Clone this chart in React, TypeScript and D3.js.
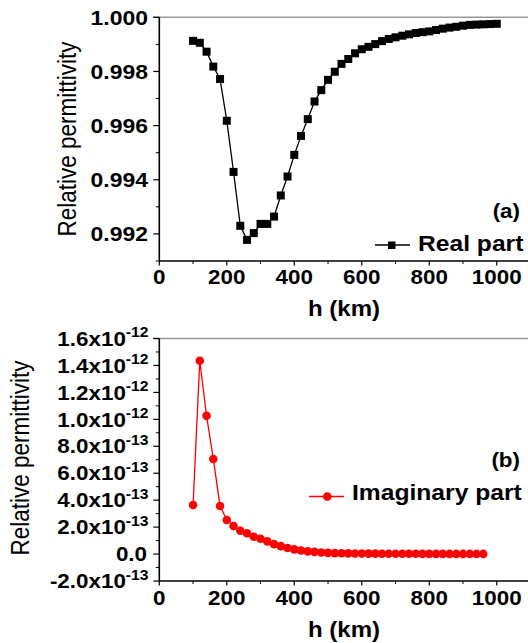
import React from 'react';
import * as d3 from 'd3';

// ---------- data ----------
const hReal = [100, 120, 140, 160, 180, 200, 220, 240, 260, 280, 300, 320, 340, 360, 380, 400, 420, 440, 460, 480, 500, 520, 540, 560, 580, 600, 620, 640, 660, 680, 700, 720, 740, 760, 780, 800, 820, 840, 860, 880, 900, 920, 940, 960, 980, 1000];
const realPart = [0.99913, 0.99906, 0.99873, 0.99818, 0.99772, 0.99618, 0.99429, 0.9923, 0.99178, 0.99203, 0.99237, 0.99237, 0.99264, 0.99342, 0.99412, 0.99492, 0.99562, 0.99624, 0.99689, 0.99731, 0.99769, 0.99799, 0.99828, 0.99846, 0.99867, 0.99882, 0.99891, 0.99901, 0.99912, 0.9992, 0.99926, 0.99932, 0.99937, 0.99942, 0.99945, 0.99948, 0.99953, 0.99958, 0.99962, 0.99965, 0.99969, 0.99972, 0.99973, 0.99974, 0.99975, 0.99976];

const hImag = [100, 120, 140, 160, 180, 200, 220, 240, 260, 280, 300, 320, 340, 360, 380, 400, 420, 440, 460, 480, 500, 520, 540, 560, 580, 600, 620, 640, 660, 680, 700, 720, 740, 760, 780, 800, 820, 840, 860, 880, 900, 920, 940, 960];
const imagPart = [3.64e-13, 1.435e-12, 1.026e-12, 7.06e-13, 3.57e-13, 2.53e-13, 2.08e-13, 1.73e-13, 1.54e-13, 1.29e-13, 1.14e-13, 9.4e-14, 7.4e-14, 5.9e-14, 4.5e-14, 3.5e-14, 2.6e-14, 2.0e-14, 1.6e-14, 1.2e-14, 9e-15, 7e-15, 6e-15, 5e-15, 4e-15, 3.5e-15, 3e-15, 3e-15, 2.5e-15, 2.5e-15, 2e-15, 2e-15, 2e-15, 2e-15, 1.5e-15, 1.5e-15, 1.5e-15, 1.5e-15, 1e-15, 1e-15, 1e-15, 1e-15, 1e-15, 1e-15];

const xTicks = [0, 200, 400, 600, 800, 1000];
const xMinorTicks = [100, 300, 500, 700, 900];
const realYTicks = [0.992, 0.994, 0.996, 0.998, 1.0];
const realYMinor = [0.991, 0.993, 0.995, 0.997, 0.999];
const imagYTicks = [-2e-13, 0, 2e-13, 4e-13, 6e-13, 8e-13, 1e-12, 1.2e-12, 1.4e-12, 1.6e-12];
const imagYMinor = [-1e-13, 1e-13, 3e-13, 5e-13, 7e-13, 9e-13, 1.1e-12, 1.3e-12, 1.5e-12];

const xLabel = 'h (km)';
const yLabel = 'Relative permittivity';
const realLegend = 'Real part';
const imagLegend = 'Imaginary part';

// ---------- layout ----------
const W = 528;
const H = 643;
const SX = 1.12;
const FONT = "'Liberation Sans', Arial, Helvetica, sans-serif";

const xScale = d3.scaleLinear().domain([0, 1100]).range([159.3, 530.5]);
const yReal = d3.scaleLinear().domain([0.991, 1.0]).range([261, 17.3]);
const yImag = d3.scaleLinear().domain([-2e-13, 1.6e-12]).range([581, 338.5]);

function Txt(props: { x: number; y: number; anchor?: string; size: number; weight?: string; rotate?: boolean; children: any; fill?: string }) {
  const { x, y, anchor = 'start', size, weight = 'bold', rotate = false, children, fill = '#000' } = props;
  return (
    <text
      transform={`translate(${x},${y}) scale(${SX},1)${rotate ? ' rotate(-90)' : ''}`}
      textAnchor={anchor}
      fontSize={size}
      fontWeight={weight}
      fontFamily={FONT}
      fill={fill}
    >
      {children}
    </text>
  );
}

function fmtImag(v: number) {
  if (Math.abs(v) < 1e-20) return { m: '0.0', e: null as string | null };
  const e = Math.abs(v) >= 0.99e-12 ? -12 : -13;
  const m = (v / Math.pow(10, e)).toFixed(1);
  return { m: m + 'x10', e: String(e) };
}

function XAxis({ y, labelY, titleY }: { y: number; labelY: number; titleY: number }) {
  const [x0] = xScale.range();
  return (
    <g>
      <line x1={x0} x2={W + 5} y1={y} y2={y} stroke="#000" strokeWidth={1.6} />
      {xTicks.map((t) => (
        <line key={'M' + t} x1={xScale(t)} x2={xScale(t)} y1={y} y2={y + 4.5} stroke="#000" strokeWidth={1.2} />
      ))}
      {xMinorTicks.map((t) => (
        <line key={'m' + t} x1={xScale(t)} x2={xScale(t)} y1={y} y2={y + 3} stroke="#000" strokeWidth={1} />
      ))}
      {xTicks.map((t) => (
        <Txt key={'L' + t} x={xScale(t)} y={labelY} anchor="middle" size={20}>
          {String(t)}
        </Txt>
      ))}
      <Txt x={344} y={titleY} anchor="middle" size={21.5}>
        {xLabel}
      </Txt>
    </g>
  );
}

export default function App() {
  const realLine = d3
    .line<number>()
    .x((_, i) => xScale(hReal[i]))
    .y((d) => yReal(d));
  const imagLine = d3
    .line<number>()
    .x((_, i) => xScale(hImag[i]))
    .y((d) => yImag(d));

  const [rTop, rBot] = [yReal.range()[1], yReal.range()[0]];
  const [iTop, iBot] = [yImag.range()[1], yImag.range()[0]];
  const x0 = xScale.range()[0];

  return (
    <svg
      width={W}
      height={H}
      viewBox={`0 0 ${W} ${H}`}
      style={{ position: 'absolute', left: 0, top: 0, display: 'block', background: '#fff' }}
    >
      <rect x={0} y={0} width={W} height={H} fill="#fff" />

      {/* ===== Panel (a) ===== */}
      <line x1={x0 - 6} x2={W + 5} y1={rTop} y2={rTop} stroke="#999" strokeWidth={1.6} />
      <line x1={x0} x2={x0} y1={rTop} y2={rBot} stroke="#000" strokeWidth={1.6} />
      {realYTicks.map((t) => (
        <g key={'ry' + t}>
          <line x1={x0 - 6} x2={x0} y1={yReal(t)} y2={yReal(t)} stroke="#000" strokeWidth={1.2} />
          <Txt x={148} y={yReal(t) + 7.2} anchor="end" size={20.5}>
            {t.toFixed(3)}
          </Txt>
        </g>
      ))}
      {realYMinor.map((t) => (
        <line key={'rym' + t} x1={x0 - 3.5} x2={x0} y1={yReal(t)} y2={yReal(t)} stroke="#000" strokeWidth={1} />
      ))}
      <XAxis y={rBot} labelY={283.5} titleY={316} />
      <Txt x={75.5} y={139} anchor="middle" size={22.5} weight="normal" rotate>
        {yLabel}
      </Txt>

      <path d={realLine(realPart) || ''} fill="none" stroke="#000" strokeWidth={1.3} />
      {realPart.map((v, i) => (
        <rect key={'rp' + i} x={xScale(hReal[i]) - 4} y={yReal(v) - 4} width={8} height={8} fill="#000" />
      ))}

      <Txt x={520} y={218} anchor="end" size={20}>
        (a)
      </Txt>
      <line x1={375} x2={410} y1={245} y2={245} stroke="#000" strokeWidth={1.3} />
      <rect x={388} y={241.5} width={7.5} height={7.5} fill="#000" />
      <Txt x={418} y={250.5} anchor="start" size={22}>
        {realLegend}
      </Txt>

      {/* ===== Panel (b) ===== */}
      <line x1={x0 - 6} x2={W + 5} y1={iTop} y2={iTop} stroke="#999" strokeWidth={1.6} />
      <line x1={x0} x2={x0} y1={iTop} y2={iBot} stroke="#000" strokeWidth={1.6} />
      {imagYTicks.map((t) => {
        const f = fmtImag(t);
        return (
          <g key={'iy' + t}>
            <line x1={x0 - 6} x2={x0} y1={yImag(t)} y2={yImag(t)} stroke="#000" strokeWidth={1.2} />
            <Txt x={f.e ? 148.5 : 147} y={yImag(t) + 7.2} anchor="end" size={20}>
              {f.m}
              {f.e ? (
                <tspan fontSize={14} dy={-8.5}>
                  {f.e}
                </tspan>
              ) : null}
            </Txt>
          </g>
        );
      })}
      {imagYMinor.map((t) => (
        <line key={'iym' + t} x1={x0 - 3.5} x2={x0} y1={yImag(t)} y2={yImag(t)} stroke="#000" strokeWidth={1} />
      ))}
      <XAxis y={iBot} labelY={605} titleY={636.5} />
      <Txt x={29} y={458} anchor="middle" size={22.5} weight="normal" rotate>
        {yLabel}
      </Txt>

      <path d={imagLine(imagPart) || ''} fill="none" stroke="#ff0000" strokeWidth={1.3} />
      {imagPart.map((v, i) => (
        <circle key={'ip' + i} cx={xScale(hImag[i])} cy={yImag(v)} r={4.3} fill="#ff0000" />
      ))}

      <Txt x={520} y={467} anchor="end" size={20}>
        (b)
      </Txt>
      <line x1={309} x2={344} y1={496.5} y2={496.5} stroke="#ff0000" strokeWidth={1.3} />
      <circle cx={327.3} cy={496.5} r={4.3} fill="#ff0000" />
      <Txt x={352} y={500} anchor="start" size={22}>
        {imagLegend}
      </Txt>
    </svg>
  );
}
